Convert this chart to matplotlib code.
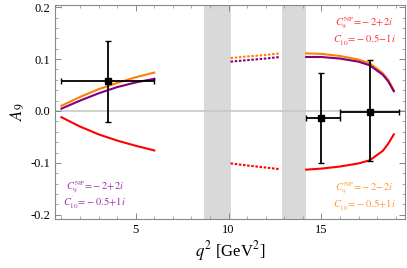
import matplotlib
matplotlib.use("Agg")
import matplotlib.pyplot as plt
from matplotlib.ticker import MultipleLocator, FormatStrFormatter

plt.rcParams["font.family"] = ["Liberation Serif", "DejaVu Serif"]
plt.rcParams["mathtext.fontset"] = "stix"

# low-q2 curves (solid)
q_low = [1.0, 2.0, 3.0, 3.5, 4.0, 5.0, 6.0]
orange_low = [0.010, 0.027, 0.042, 0.048, 0.054, 0.065, 0.074]
purple_low = [0.0045, 0.020, 0.034, 0.040, 0.046, 0.055, 0.062]
red_low = [-0.012, -0.030, -0.045, -0.051, -0.057, -0.067, -0.076]

# between the vetoed bands (dashed)
q_mid = [10.11, 11.0, 12.0, 12.75]
orange_mid = [0.102, 0.105, 0.108, 0.111]
purple_mid = [0.095, 0.098, 0.101, 0.104]
red_mid = [-0.101, -0.105, -0.109, -0.112]

# high-q2 curves (solid)
q_high = [14.18, 15.0, 16.0, 17.0, 17.6, 18.3, 18.6, 18.9]
orange_high = [0.111, 0.110, 0.106, 0.099, 0.092, 0.073, 0.060, 0.040]
purple_high = [0.104, 0.104, 0.101, 0.095, 0.088, 0.070, 0.057, 0.038]
red_high = [-0.113, -0.111, -0.107, -0.101, -0.095, -0.077, -0.063, -0.045]

# vetoed charmonium regions
bands = [(8.68, 10.11), (12.86, 14.18)]

# measurements
meas_q = [3.5, 15.0, 17.6]
meas_qlo = [1.0, 14.18, 16.0]
meas_qhi = [6.0, 16.0, 19.2]
meas_a9 = [0.058, -0.014, -0.001]
meas_up = [0.077, 0.088, 0.099]
meas_dn = [0.079, 0.087, 0.095]

# benchmark labels: (q2, A9 centre, colour, C9 text, C10' text)
labels = [
    (17.3, 0.153, "#FF3030", r"$C_9^{\rm NP}\!=\!-2\!+\!2i$", r"$C_{10}^{'}\!=\!-0.5\!-\!1i$"),
    (2.8, -0.162, "#9933AA", r"$C_9^{\rm NP}\!=\!-2\!+\!2i$", r"$C_{10}^{'}\!=\!-0.5\!+\!1i$"),
    (17.3, -0.165, "#FF9933", r"$C_9^{\rm NP}\!=\!-2\!-\!2i$", r"$C_{10}^{'}\!=\!-0.5\!+\!1i$"),
]

ORANGE = "#FF8000"
PURPLE = "#800080"
RED = "#FF0000"

fig = plt.figure(figsize=(4.07, 2.68), dpi=100)
ax = fig.add_axes([0.135, 0.183, 0.86, 0.798])

for lo, hi in bands:
    ax.axvspan(lo, hi, color="#D9D9D9", lw=0, zorder=0)
ax.axhline(0.0, color="#C8C8C8", lw=1.2, zorder=1)

for q, o, p, r, ls in [
    (q_low, orange_low, purple_low, red_low, "-"),
    (q_mid, orange_mid, purple_mid, red_mid, (0, (1.2, 0.8))),
    (q_high, orange_high, purple_high, red_high, "-"),
]:
    ax.plot(q, o, color=ORANGE, lw=1.5, ls=ls, zorder=3)
    ax.plot(q, p, color=PURPLE, lw=1.5, ls=ls, zorder=3)
    ax.plot(q, r, color=RED, lw=1.5, ls=ls, zorder=3)

xerr = [[c - lo for c, lo in zip(meas_q, meas_qlo)],
        [hi - c for c, hi in zip(meas_q, meas_qhi)]]
ax.errorbar(meas_q, meas_a9, xerr=xerr, yerr=[meas_dn, meas_up],
            fmt="s", color="black", ms=4, elinewidth=1.3, capsize=2,
            capthick=1.0, zorder=4)

for x, y, col, t9, t10 in labels:
    ax.text(x, y, t9 + "\n" + t10, color=col, fontsize=7.5,
            ha="center", va="center", multialignment="center", linespacing=0.95)

ax.set_xlim(0.65, 19.5)
ax.set_ylim(-0.208, 0.204)
ax.xaxis.set_major_locator(MultipleLocator(5))
ax.xaxis.set_minor_locator(MultipleLocator(1))
ax.yaxis.set_major_locator(MultipleLocator(0.1))
ax.yaxis.set_minor_locator(MultipleLocator(0.02))
ax.yaxis.set_major_formatter(FormatStrFormatter("%.1f"))
ax.tick_params(which="both", direction="in", top=True, right=True,
               colors="#888888", labelcolor="black", labelsize=9)
ax.tick_params(which="major", length=4, width=0.7)
ax.tick_params(which="minor", length=2, width=0.5)
for s in ax.spines.values():
    s.set_color("#888888")
    s.set_linewidth(0.8)

ax.set_xlabel(r"$q^2$ [GeV$^2$]", fontsize=12, labelpad=2)
ax.set_ylabel(r"$A_9$", fontsize=12, labelpad=2)

fig.savefig("out.png", dpi=100)
